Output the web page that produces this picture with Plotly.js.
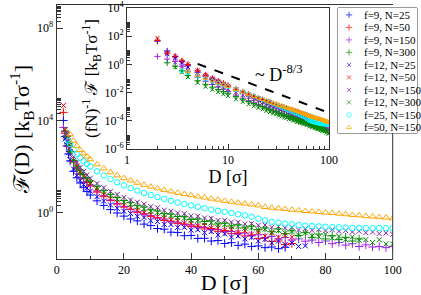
<!DOCTYPE html>
<html><head><meta charset="utf-8">
<script src="https://cdn.plot.ly/plotly-3.0.1.min.js"></script>
<style>html,body{margin:0;padding:0;background:#fff}#chart{width:421px;height:295px}</style>
</head><body><div id="chart"></div>
<script>
// separation D [sigma]
const D = [2,2.5,3,3.5,4,5,6,7,8,9,10,12,14,16,18,20,22,24,26,28,30,32,34,36,38,40,42,44,46,48,50,52,54,56,58,60,62,64,66,68,70,72,74,76,78,80,82,84,86,88,90,92,94,96,98,100];

const seriesNames = ['f=9, N=25','f=9, N=50','f=9, N=150','f=9, N=300','f=12, N=25','f=12, N=50','f=12, N=150','f=12, N=300','f=25, N=150','f=50, N=150'];
const fValues = [9,9,9,9,12,12,12,12,25,50];
const nValues = [25,50,150,300,25,50,150,300,150,150];

// F(D) [kBT/sigma]
const F_f9_N25 = [1.0e4,2000,794,355,178,63,33,19.5,12.3,8.3,5.9,
 3.3,2.1,1.38,0.98,0.72,0.54,0.447,0.324,0.28,0.209,
 0.195,0.145,0.141,0.102,0.105,0.078,0.079,0.06,0.063,0.047,
 0.051,0.039,0.044,0.035,0.037,0.031,0.033,0.028,0.032];
const F_f9_N50 = [2.24e4,2800,1580,794,447,158,79,46.8,29.5,20.4,14.5,
 7.9,5.0,3.4,2.4,1.78,1.41,1.05,0.91,0.68,0.62,
 0.47,0.44,0.34,0.33,0.257,0.263,0.2,0.209,0.158,0.17,
 0.126,0.135,0.1,0.11,0.078,0.081,0.058,0.06,0.042,0.047];
const F_f9_N150 = [5000,3200,2240,1000,447,170,87,51,33,22.9,16.2,
 8.9,5.5,3.6,2.57,1.91,1.45,1.17,0.89,0.76,0.59,
 0.54,0.417,0.39,0.309,0.302,0.24,0.234,0.19,0.19,0.151,
 0.155,0.123,0.132,0.102,0.112,0.085,0.095,0.074,0.085,0.066,
 0.074,0.059,0.066,0.052,0.06,0.046,0.052,0.04,0.046,0.035,
 0.041,0.033,0.035,0.031,0.035];
const F_f9_N300 = [null,3500,2000,955,447,186,105,66,44.7,32.4,24,
 14.1,9.1,6.3,4.6,3.4,2.75,2.1,1.78,1.35,1.2,
 0.93,0.87,0.69,0.68,0.52,0.54,0.42,0.45,0.33,0.355,
 0.27,0.30,0.224,0.263,0.186,0.219,0.151,0.2,0.126,0.166,
 0.105,0.138,0.087,0.12,0.074,0.102,0.069,0.087,0.06,0.074];
const F_f12_N25 = [null,1580,891,398,200,79,41.7,25.1,16.6,11.7,8.7,
 5.0,3.24,2.19,1.58,1.17,0.93,0.71,0.62,0.457,0.417,
 0.316,0.309,0.234,0.234,0.178,0.186,0.138,0.155,0.11,0.123,
 0.089,0.1,0.074,0.087,0.06,0.071,0.05,0.06,0.042,0.049,
 0.035,0.037];
const F_f12_N50 = [4.47e4,3980,2240,1000,603,224,110,62,38.9,26.3,18.2,
 10,6.2,4.1,2.9,2.14,1.62,1.29,1.02,0.85,0.68,
 0.60,0.48,0.45,0.355,0.347,0.275,0.28,0.219,0.224,0.178,
 0.195,0.141,0.166,0.12,0.148,0.098,0.132,0.089,0.105,0.089];
const F_f12_N150 = [null,null,2500,1260,631,269,148,91,62,43.7,31.6,
 18.6,12.3,8.5,6.2,4.7,3.6,2.9,2.4,1.86,1.66,
 1.29,1.17,0.98,0.91,0.74,0.72,0.60,0.575,0.47,0.48,
 0.40,0.39,0.33,0.34,0.29,0.295,0.24,0.257,0.22,0.234,
 0.18,0.204,0.174,0.19,0.166,0.186,0.158,0.17,0.148,0.158,
 0.138,0.148,0.126,0.132,0.117];
const F_f12_N300 = [null,null,2240,1000,447,178,93,57.5,38.9,27.5,20.4,
 12.0,7.9,5.4,3.9,2.95,2.34,1.78,1.51,1.17,1.05,
 0.83,0.76,0.62,0.59,0.47,0.47,0.38,0.37,0.30,0.31,
 0.257,0.257,0.214,0.224,0.178,0.195,0.145,0.17,0.132,0.155,
 0.11,0.135,0.1,0.091,0.12,0.081,0.095,0.069,0.091,0.065,
 0.069,0.052,0.068,0.045,0.045];
const F_f25_N150 = [null,null,null,1300,955,550,347,240,174,132,102,
 63,41.7,28.8,20.9,15.5,11.7,9.1,7.2,5.9,4.8,
 4.0,3.3,2.8,2.4,2.1,1.82,1.58,1.38,1.23,1.1,
 0.98,0.87,0.78,0.68,0.56,0.47,0.41,0.37,0.34,0.32,
 0.295,0.28,0.27,0.26,0.25,0.24,0.235,0.23,0.22,0.224,
 0.22,0.214,0.22,0.214,0.21];
const F_f50_N150 = [null,null,null,null,2500,1320,794,525,372,275,209,
 126,83,57.5,41.7,31.6,25.1,20.0,16.2,13.5,11.5,
 9.8,8.5,7.4,6.5,5.75,5.1,4.6,4.1,3.7,3.3,
 3.0,2.75,2.5,2.3,2.1,1.78,1.66,1.55,1.45,1.35,
 1.29,1.2,1.15,1.07,1.02,0.98,0.91,0.87,0.81,0.78,
 0.72,0.69,0.65,0.62,0.575];

const seriesF = [F_f9_N25,F_f9_N50,F_f9_N150,F_f9_N300,F_f12_N25,F_f12_N50,F_f12_N150,F_f12_N300,F_f25_N150,F_f50_N150];

// guide line ~ D^-8/3 in the inset
const guideD = [5, 100];
const guideF = [1.1, 3.7e-4];

// styles
const colors = ['#0000ff','#ff0000','#a020f0','#008b00','#0000ff','#ff0000','#8b22b8','#008b00','#00ffff','#ffa500'];
const symbols = ['cross-thin','cross-thin','cross-thin','cross-thin','x-thin','x-thin','x-thin','x-thin','circle-open','triangle-up-open'];
const sizeMain = [6,6,6,6,5,5,5,5,5.5,6];
const sizeInset = [4.5,4.5,4.5,4.5,4,4,4,4,4,4.5];

const W = 421, H = 295;
const px = v => v / W, py = v => 1 - v / H;
const FONT = 'Liberation Serif, DejaVu Serif, serif';
const AX = '#333';
const TF = {size: 12, family: FONT, color: '#000'};

const traces = [];
seriesF.forEach((arr, i) => {
  traces.push({
    x: D, y: arr, type: 'scatter', mode: 'markers', xaxis: 'x', yaxis: 'y',
    showlegend: false,
    marker: {symbol: symbols[i], size: sizeMain[i], color: colors[i], line: {color: colors[i], width: 1}}
  });
});
seriesF.forEach((arr, i) => {
  const fn = fValues[i] * nValues[i];
  traces.push({
    x: D, y: arr.map(v => v == null ? null : v / fn), type: 'scatter', mode: 'markers',
    xaxis: 'x2', yaxis: 'y2', showlegend: false,
    marker: {symbol: symbols[i], size: sizeInset[i], color: colors[i], line: {color: colors[i], width: 1}}
  });
});
traces.push({x: guideD, y: guideF, type: 'scatter', mode: 'lines', xaxis: 'x2', yaxis: 'y2',
  showlegend: false, line: {color: '#000', width: 2, dash: 'dash'}});
// legend symbols
traces.push({x: seriesNames.map(() => 0.14), y: seriesNames.map((_, i) => i), type: 'scatter', mode: 'markers',
  xaxis: 'x3', yaxis: 'y3', showlegend: false, cliponaxis: false,
  marker: {symbol: symbols, size: [4.5,4.5,4.5,4.5,4,4,4,4,4.5,4.5], color: colors, line: {color: colors, width: 1}}});

const minorMainY = [];
[1, 1e4, 1e8].forEach(b => { for (let k = 2; k <= 9; k++) minorMainY.push(k * b); });
const minorInsetY = [];
[1e-6, 1e-4, 1e-2, 1, 1e2].forEach(b => { for (let k = 2; k <= 9; k++) minorInsetY.push(k * b); });
const minorInsetX = [];
[1, 10].forEach(b => { for (let k = 2; k <= 9; k++) minorInsetX.push(k * b); });

const sup = e => '10<sup>' + e + '</sup>';

const layout = {
  width: W, height: H, margin: {l: 0, r: 0, t: 0, b: 0},
  paper_bgcolor: '#fff', plot_bgcolor: '#fff',
  font: {family: FONT, color: '#000', size: 12},
  showlegend: false,
  xaxis: {
    domain: [px(56.7), px(392.7)], anchor: 'y', range: [0, 100],
    tickmode: 'array', tickvals: [0, 20, 40, 60, 80, 100], ticks: 'inside', ticklen: 6, tickcolor: AX,
    minor: {tickmode: 'array', tickvals: [10, 30, 50, 70, 90], ticks: 'inside', ticklen: 3, tickcolor: AX},
    showline: true, mirror: true, linecolor: AX, linewidth: 1, showgrid: false, zeroline: false,
    tickfont: TF,
    title: {text: 'D [σ]', font: {size: 22, family: FONT, color: '#000'}, standoff: 2}
  },
  yaxis: {
    domain: [py(259), py(5)], anchor: 'x', type: 'log', range: [-2, 9],
    tickmode: 'array', tickvals: [1, 1e4, 1e8], ticktext: [sup(0), sup(4), sup(8)],
    ticks: 'inside', ticklen: 6, tickcolor: AX,
    minor: {tickmode: 'array', tickvals: minorMainY, ticks: 'inside', ticklen: 4, tickcolor: AX},
    showline: true, mirror: false, linecolor: AX, linewidth: 1, showgrid: false, zeroline: false,
    tickfont: TF
  },
  xaxis2: {
    domain: [px(127), px(329)], anchor: 'y2', type: 'log', range: [0, 2],
    tickmode: 'array', tickvals: [1, 10, 100], ticktext: ['1', '10', '100'],
    ticks: 'inside', ticklen: 5, tickcolor: AX,
    minor: {tickmode: 'array', tickvals: minorInsetX, ticks: 'inside', ticklen: 3, tickcolor: AX},
    showline: true, mirror: true, linecolor: AX, linewidth: 1, showgrid: false, zeroline: false,
    tickfont: TF,
    title: {text: 'D [σ]', font: {size: 18, family: FONT, color: '#000'}, standoff: 0}
  },
  yaxis2: {
    domain: [py(149), py(8)], anchor: 'x2', type: 'log', range: [-6, 4],
    tickmode: 'array', tickvals: [1e-6, 1e-4, 1e-2, 1, 1e2, 1e4],
    ticktext: [sup('-6'), sup('-4'), sup('-2'), sup(0), sup(2), sup(4)],
    ticks: 'inside', ticklen: 5, tickcolor: AX,
    minor: {tickmode: 'array', tickvals: minorInsetY, ticks: 'inside', ticklen: 3, tickcolor: AX},
    showline: true, mirror: true, linecolor: AX, linewidth: 1, showgrid: false, zeroline: false,
    tickfont: TF,
    title: {text: '(fN)<sup>-1</sup> ℱ [k<sub>B</sub>Tσ<sup>-1</sup>]', font: {size: 17, family: FONT, color: '#000'}, standoff: 2}
  },
  xaxis3: {domain: [px(338), px(417)], anchor: 'y3', range: [0, 1], visible: false, fixedrange: true},
  yaxis3: {domain: [py(133), py(8)], anchor: 'x3', range: [9.45, -0.55], visible: false, fixedrange: true},
  shapes: [
    {type: 'rect', xref: 'paper', yref: 'paper', x0: px(338), x1: px(417), y0: py(133), y1: py(8),
     line: {color: AX, width: 1}, fillcolor: '#fff', layer: 'below'},
    {type: 'line', xref: 'paper', yref: 'paper', x0: px(392.7), x1: px(392.7), y0: py(259), y1: py(133),
     line: {color: AX, width: 1}}
  ],
  annotations: seriesNames.map((name, i) => ({
    xref: 'x3', yref: 'y3', x: 0.3, y: i, text: name, showarrow: false, xanchor: 'left', yanchor: 'middle',
    font: {size: 11, family: FONT, color: '#000'}
  })).concat([{
    xref: 'x2', yref: 'y2', x: Math.log10(32), y: -0.68, text: '~ D<sup>-8/3</sup>', showarrow: false,
    font: {size: 18, family: FONT, color: '#000'}
  }, {
    xref: 'paper', yref: 'paper', x: px(22), y: py(130), xanchor: 'center', yanchor: 'middle',
    text: 'ℱ(D) [k<sub>B</sub>Tσ<sup>-1</sup>]', textangle: -90, showarrow: false,
    font: {size: 22, family: FONT, color: '#000'}
  }])
};

Plotly.newPlot('chart', traces, layout, {staticPlot: true, displayModeBar: false});
</script>
</body></html>
